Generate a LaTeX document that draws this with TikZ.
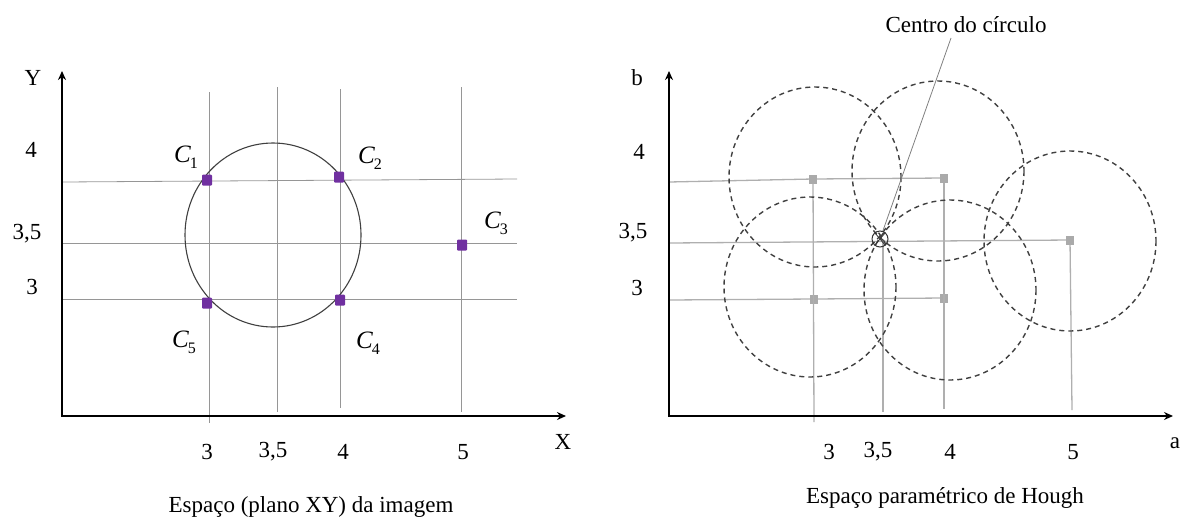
\documentclass[tikz,border=0pt]{standalone}
\usepackage{fontspec}
\setmainfont{Liberation Serif}
\usetikzlibrary{arrows.meta}
\definecolor{ptpurple}{HTML}{7030A0}
\definecolor{sqgray}{RGB}{170,170,170}
\definecolor{gridgray}{RGB}{150,150,150}
\definecolor{hgrid}{RGB}{175,175,175}
\newcommand{\clab}[1]{\textit{C}\kern-1pt\raisebox{-6pt}{\fontsize{16}{18}\selectfont #1}}
\tikzset{
  axis/.style={line width=1.6pt, black, {Stealth[length=9pt,width=8pt]}-{Stealth[length=9pt,width=8pt]}},
  lbl/.style={inner sep=0pt, font=\fontsize{23}{27}\selectfont},
  clbl/.style={inner sep=0pt, font=\fontsize{25}{28}\selectfont},
  gridl/.style={gridgray, line width=0.8pt},
  hgridl/.style={hgrid, line width=1.3pt},
  psq/.style={fill=ptpurple, draw=none, minimum width=10pt, minimum height=11pt, inner sep=0pt, rounded corners=1pt},
  gsq/.style={fill=sqgray, draw=none, minimum width=8pt, minimum height=9pt, inner sep=0pt},
  dcirc/.style={black!75, line width=1.4pt, dash pattern=on 5pt off 4pt},
  scirc/.style={black!75, line width=1.1pt},
}
\begin{document}
\begin{tikzpicture}[x=1pt,y=-1pt]
\useasboundingbox (0,0) rectangle (1180,520);
% ================= left panel =================
\coordinate (Ytop) at (62,71);
\coordinate (O1) at (62,416);
\coordinate (Xend) at (566,416);
% grid
\draw[gridl] (63,182) -- (517,179);
\draw[gridl] (63,243) -- (517,243);
\draw[gridl] (63,299) -- (517,299);
\draw[gridl] (209,92) -- (209,423);
\draw[gridl] (277,87) -- (277,412);
\draw[gridl] (340,89) -- (340,408);
\draw[gridl] (461,87) -- (461,412);
% circle
\draw[scirc] (273,235) ellipse [x radius=88, y radius=92];
% axes
\draw[axis] (Ytop) -- (O1) -- (Xend);
% points
\node[psq] (c1) at (207,180) {};
\node[psq] (c2) at (339,177) {};
\node[psq] (c3) at (462,245) {};
\node[psq] (c4) at (340,300) {};
\node[psq] (c5) at (207,303) {};
\node[clbl] (lc1) at (186,157) {\clab{1}};
\node[clbl] (lc2) at (370,158) {\clab{2}};
\node[clbl] (lc3) at (496,223) {\clab{3}};
\node[clbl] (lc4) at (368,343) {\clab{4}};
\node[clbl] (lc5) at (184,342) {\clab{5}};
% labels
\node[lbl] (ylab) at (33,78) {Y};
\node[lbl] (xlab) at (563,442) {X};
\node[lbl] (ly4) at (31,150) {4};
\node[lbl] (ly35) at (27,234) {3,5};
\node[lbl] (ly3) at (32,287) {3};
\node[lbl] (lx3) at (207,452) {3};
\node[lbl] (lx35) at (273,452) {3,5};
\node[lbl] (lx4) at (343,452) {4};
\node[lbl] (lx5) at (463,452) {5};
\node[lbl] (t1) at (311,507) {Espaço (plano XY) da imagem};
% ================= right panel =================
\coordinate (btop) at (669,71);
\coordinate (O2) at (669,416);
\coordinate (aend) at (1173,416);
\node[gsq] (s1) at (813,179) {};
\node[gsq] (s2) at (944,178) {};
\node[gsq] (s3) at (1070,240) {};
\node[gsq] (s4) at (814,299) {};
\node[gsq] (s5) at (944,298) {};
\coordinate (h4) at (669,182);
\coordinate (h35) at (669,243);
\coordinate (h3) at (669,300);
\coordinate (v3) at (814,422);
\coordinate (v35t) at (883,241);
\coordinate (v35) at (883,412);
\coordinate (v4) at (944,409);
\coordinate (v5) at (1072,410);
\draw[hgridl] (h4) -- (s1) -- (s2);
\draw[hgridl] (h35) -- (s3);
\draw[hgridl] (h3) -- (s4) -- (s5);
\draw[hgridl] (s1) -- (v3);
\draw[hgridl] (v35t) -- (v35);
\draw[hgridl] (s2) -- (v4);
\draw[hgridl] (s3) -- (v5);
% dashed circles
\draw[dcirc] (815,177) ellipse [x radius=86, y radius=90];
\draw[dcirc] (938,171) ellipse [x radius=86, y radius=90];
\draw[dcirc] (1070,241) ellipse [x radius=86, y radius=90];
\draw[dcirc] (810,287) ellipse [x radius=86, y radius=90];
\draw[dcirc] (950,290) ellipse [x radius=86, y radius=90];
% axes
\draw[axis] (btop) -- (O2) -- (aend);
% centre marker
\node[draw=black!80, line width=1pt, circle, minimum size=16pt, inner sep=0pt] (cc) at (880,239) {};
\draw[black!80, line width=0.8pt] (cc.50) -- (cc.230) (cc.130) -- (cc.310);
\node[lbl] (centro) at (966,25) {Centro do círculo};
\coordinate (lead) at (951,38);
\draw[gray, line width=0.8pt] (lead) -- (cc);
% labels
\node[lbl] (blab) at (637,78) {b};
\node[lbl] (alab) at (1175,443) {a};
\node[lbl] (lb4) at (639,152) {4};
\node[lbl] (lb35) at (633,233) {3,5};
\node[lbl] (lb3) at (637,288) {3};
\node[lbl] (la3) at (829,452) {3};
\node[lbl] (la35) at (878,452) {3,5};
\node[lbl] (la4) at (950,452) {4};
\node[lbl] (la5) at (1073,452) {5};
\node[lbl] (t2) at (945,498) {Espaço paramétrico de Hough};
\end{tikzpicture}
\end{document}
